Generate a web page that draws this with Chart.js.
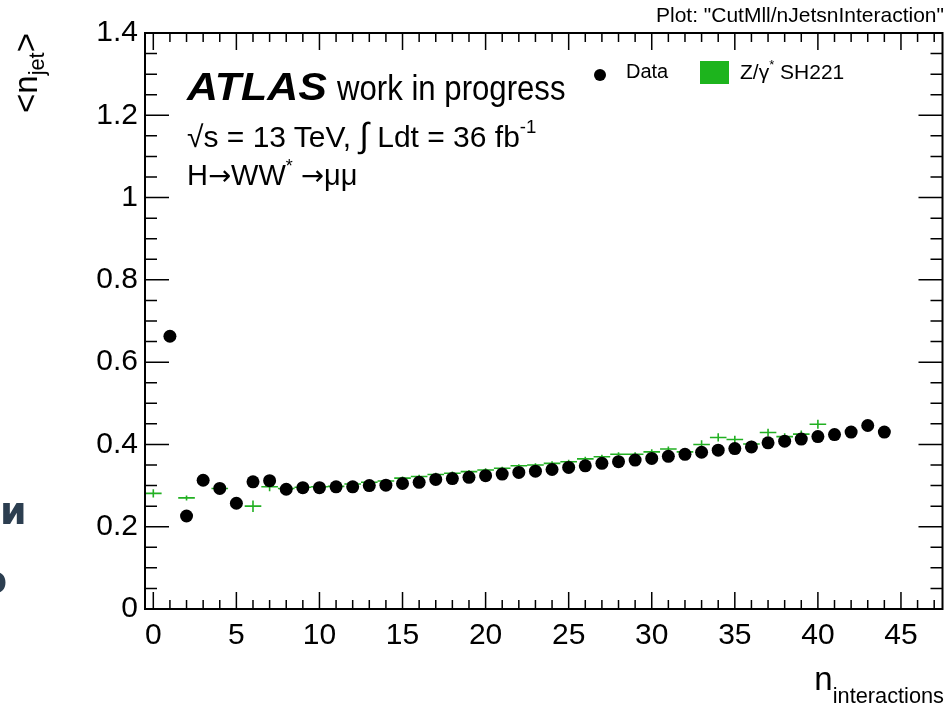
<!DOCTYPE html>
<html><head><meta charset="utf-8">
<script src="https://cdn.jsdelivr.net/npm/chart.js@4.4.1/dist/chart.umd.min.js"></script>
<style>
body{margin:0;background:#fff;}
#wrap{position:relative;width:949px;height:709px;overflow:hidden;font-family:"Liberation Sans",Arial,sans-serif;color:#000}
#wrap canvas{position:absolute;left:0;top:0}
.t{position:absolute;white-space:nowrap;line-height:1}
.sup{position:relative;font-size:0.62em;top:-0.75em}
.arr{font-family:"DejaVu Sans",sans-serif;font-size:0.95em}
.cyr{position:absolute;line-height:1;font-weight:bold;font-size:38px;color:#2c3e50;font-family:"DejaVu Sans","Liberation Sans",sans-serif}
</style></head><body>
<div id="wrap">
<canvas id="c" width="949" height="709"></canvas>
<div class="cyr" style="left:0;top:492px">и</div>
<div class="cyr" style="left:-19px;top:561px">о</div>
<div class="t" style="right:5px;top:4px;font-size:21px">Plot: "CutMll/nJetsnInteraction"</div>
<div class="t" style="left:187px;top:67px;font-size:39px;font-weight:bold;font-style:italic;transform:scaleX(1.1);transform-origin:0 0">ATLAS</div>
<div class="t" style="left:337px;top:70px;font-size:35px;transform:scaleX(0.89);transform-origin:0 0">work in progress</div>
<div class="t" style="left:187px;top:118px;font-size:30px">√s = 13 TeV, <span style="font-size:1.15em">∫</span> Ldt = 36 fb<span class="sup">-1</span></div>
<div class="t" style="left:187px;top:161px;font-size:29px">H<span class="arr">→</span>WW<span class="sup">*</span> <span class="arr">→</span>μμ</div>
<div style="position:absolute;left:594px;top:69px;width:12px;height:12px;border-radius:50%;background:#000"></div>
<div class="t" style="left:626px;top:61px;font-size:20px">Data</div>
<div style="position:absolute;left:700px;top:61px;width:29px;height:23px;background:#1db41d"></div>
<div class="t" style="left:740px;top:61px;font-size:21px">Z/γ<span class="sup">*</span> SH221</div>
<div class="t" style="left:9px;top:113px;font-size:33px;transform:rotate(-90deg);transform-origin:0 0">&lt;n<span style="position:relative;font-size:0.66em;top:0.3em">jet</span>&gt;</div>
<div class="t" style="right:5px;top:662px;font-size:33px">n<span style="position:relative;font-size:0.66em;top:13px">interactions</span></div>
</div>
<script>
const nInteractions=[0,1,2,3,4,5,6,7,8,9,10,11,12,13,14,15,16,17,18,19,20,21,22,23,24,25,26,27,28,29,30,31,32,33,34,35,36,37,38,39,40,41,42,43,44];
const dataMean=[null,0.663,0.226,0.313,0.293,0.257,0.309,0.312,0.291,0.295,0.295,0.297,0.297,0.300,0.301,0.305,0.308,0.315,0.317,0.320,0.324,0.328,0.332,0.335,0.339,0.344,0.348,0.354,0.358,0.362,0.366,0.371,0.376,0.381,0.386,0.390,0.394,0.404,0.408,0.413,0.419,0.424,0.430,0.446,0.430];
const mcMean=[0.281,null,0.270,null,0.293,null,0.250,0.297,0.293,0.296,0.297,0.298,0.304,0.308,0.311,0.318,0.322,0.327,0.330,0.334,0.338,0.342,0.348,0.350,0.354,0.358,0.365,0.370,0.376,0.376,0.382,0.389,0.382,0.400,0.417,0.412,0.401,0.429,0.419,0.425,0.449,null,null,null,null];
const mcErr=[0.010,null,0.006,null,0.005,null,0.014,0.011,0.005,0.004,0.004,0.004,0.004,0.004,0.004,0.004,0.004,0.004,0.004,0.004,0.004,0.004,0.004,0.004,0.005,0.005,0.005,0.005,0.005,0.005,0.006,0.006,0.006,0.010,0.010,0.009,0.008,0.009,0.008,0.009,0.011,null,null,null,null];
const xTicks=[0,5,10,15,20,25,30,35,40,45];
const yTicks=[0,0.2,0.4,0.6,0.8,1,1.2,1.4];
const yTickLabels=['0','0.2','0.4','0.6','0.8','1','1.2','1.4'];
const xRange=[-0.5,47.5], yRange=[0,1.4];
const mcColor='#22b022';

const mcBars={id:'mcBars',beforeDatasetsDraw(ch){
  const {ctx,scales:{x,y}}=ch;
  ctx.save();ctx.strokeStyle=mcColor;ctx.lineWidth=1.6;ctx.beginPath();
  for(const p of ch.data.datasets[0].data){
    const py=y.getPixelForValue(p.y);
    ctx.moveTo(x.getPixelForValue(p.x-0.5),py);ctx.lineTo(x.getPixelForValue(p.x+0.5),py);
    const px=x.getPixelForValue(p.x);
    ctx.moveTo(px,y.getPixelForValue(p.y-p.e));ctx.lineTo(px,y.getPixelForValue(p.y+p.e));
  }
  ctx.stroke();ctx.restore();
}};
const frame={id:'frame',afterDatasetsDraw(ch){
  const {ctx,chartArea:a,scales:{x,y}}=ch;
  ctx.save();ctx.strokeStyle='#000';ctx.lineWidth=1.5;ctx.beginPath();
  for(let v=Math.ceil(xRange[0]);v<=xRange[1];v++){
    const px=x.getPixelForValue(v),l=v%5===0?17:9;
    ctx.moveTo(px,a.bottom);ctx.lineTo(px,a.bottom-l);
    ctx.moveTo(px,a.top);ctx.lineTo(px,a.top+l);
  }
  for(let k=0;k<=28;k++){
    const py=y.getPixelForValue(k*0.05),l=k%4===0?24:12;
    ctx.moveTo(a.left,py);ctx.lineTo(a.left+l,py);
    ctx.moveTo(a.right,py);ctx.lineTo(a.right-l,py);
  }
  ctx.stroke();
  ctx.lineWidth=2;ctx.strokeRect(a.left,a.top,a.width,a.height);
  ctx.restore();
}};

new Chart(document.getElementById('c'),{
  type:'scatter',
  data:{datasets:[
    {label:'Z/γ* SH221',data:nInteractions.map((n,i)=>({x:n,y:mcMean[i],e:mcErr[i]})).filter(p=>p.y!=null),pointRadius:0,showLine:false},
    {label:'Data',data:nInteractions.map((n,i)=>({x:n,y:dataMean[i]})).filter(p=>p.y!=null),pointRadius:6.5,pointBackgroundColor:'#000',pointBorderWidth:0,showLine:false}
  ]},
  options:{
    responsive:false,animation:false,
    layout:{padding:{left:0,top:33,right:4,bottom:0}},
    plugins:{legend:{display:false},tooltip:{enabled:false}},
    scales:{
      x:{type:'linear',min:xRange[0],max:xRange[1],
        afterBuildTicks:s=>{s.ticks=xTicks.map(v=>({value:v}));},
        afterFit:s=>{s.height=100;},
        grid:{display:false,drawTicks:false},border:{display:false},
        ticks:{color:'#000',font:{family:'"Liberation Sans", Arial',size:30},padding:9,maxRotation:0,autoSkip:false}},
      y:{min:yRange[0],max:yRange[1],
        afterBuildTicks:s=>{s.ticks=yTicks.map(v=>({value:v}));},
        afterFit:s=>{s.width=145;},
        grid:{display:false,drawTicks:false},border:{display:false},
        ticks:{color:'#000',font:{family:'"Liberation Sans", Arial',size:30},padding:7,autoSkip:false,callback:(v,i)=>yTickLabels[i]}}
    }
  },
  plugins:[mcBars,frame]
});
</script>
</body></html>
